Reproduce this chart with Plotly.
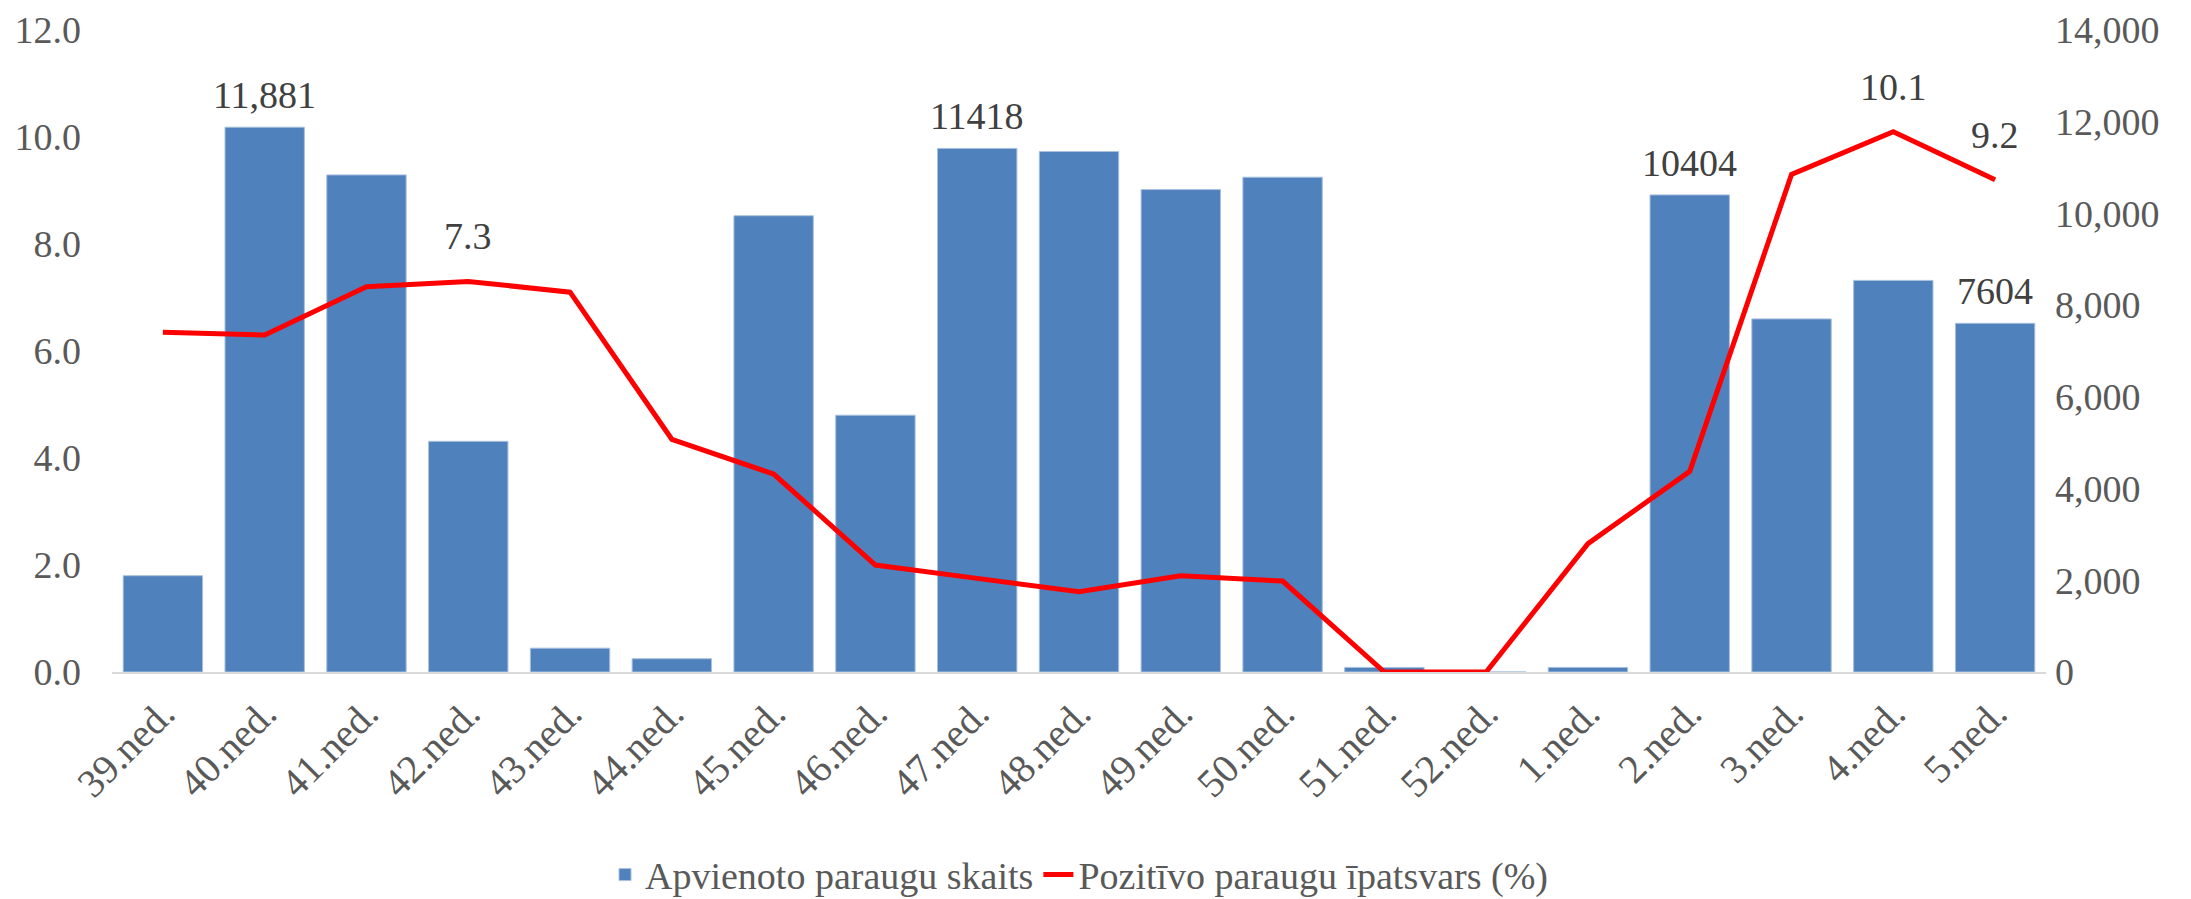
import plotly.graph_objects as go

# weeks
weeks = ["39.ned.", "40.ned.", "41.ned.", "42.ned.", "43.ned.", "44.ned.", "45.ned.",
         "46.ned.", "47.ned.", "48.ned.", "49.ned.", "50.ned.", "51.ned.", "52.ned.",
         "1.ned.", "2.ned.", "3.ned.", "4.ned.", "5.ned."]

# combined sample count (right axis)
samples = [2100, 11881, 10840, 5030, 520, 290, 9950, 5600, 11418, 11350,
           10520, 10790, 100, 0, 100, 10404, 7700, 8540, 7604]
sample_labels = ["", "11,881", "", "", "", "", "", "", "11418", "",
                 "", "", "", "", "", "10404", "", "", "7604"]

# share of positive samples, % (left axis)
positive_pct = [6.35, 6.3, 7.2, 7.3, 7.1, 4.35, 3.7, 2.0, 1.75, 1.5,
                1.8, 1.7, 0.0, 0.0, 2.4, 3.75, 9.3, 10.1, 9.2]
pct_labels = ["", "", "", "7.3", "", "", "", "", "", "",
              "", "", "", "", "", "", "", "10.1", "9.2"]

FONT = "Liberation Serif"
GRAY = "#595959"
DARK = "#404040"

fig = go.Figure()

fig.add_trace(go.Bar(
    x=weeks, y=samples, name="Apvienoto paraugu skaits",
    marker=dict(color="#4F81BD", line=dict(color="#A9C0DE", width=1)),
    yaxis="y",
))

fig.add_trace(go.Scatter(
    x=weeks, y=positive_pct, name="Pozitīvo paraugu īpatsvars (%)",
    mode="lines", line=dict(color="#FF0000", width=5),
    cliponaxis=False,
    yaxis="y2",
))

# value labels over selected bars and line points
for wk, val, lab in zip(weeks, samples, sample_labels):
    if lab:
        fig.add_annotation(x=wk, y=val, xref="x", yref="y", text=lab,
                           showarrow=False, yshift=32,
                           font=dict(family=FONT, size=38, color=DARK))
for wk, val, lab in zip(weeks, positive_pct, pct_labels):
    if lab:
        fig.add_annotation(x=wk, y=val, xref="x", yref="y2", text=lab,
                           showarrow=False, yshift=45,
                           font=dict(family=FONT, size=38, color=DARK))

fig.update_layout(
    width=2191, height=899,
    margin=dict(l=104, r=153, t=22, b=235, autoexpand=False),
    paper_bgcolor="white", plot_bgcolor="white",
    font=dict(family=FONT, size=38, color=GRAY),
    bargap=0.22,
    showlegend=True,
    legend=dict(orientation="h", x=0.5, xanchor="center", y=-0.316, yanchor="middle",
                font=dict(family=FONT, size=38, color=GRAY)),
    xaxis=dict(tickangle=-45, showgrid=False, showline=True, linecolor="#D9D9D9",
               linewidth=2, ticks="", ticklabelstandoff=0, automargin=False,
               tickfont=dict(family=FONT, size=40, color=GRAY)),
    yaxis=dict(side="right", range=[0, 14000], dtick=2000, tickformat=",",
               showgrid=False, zeroline=False, ticks="", automargin=False,
               ticklabelstandoff=8,
               tickfont=dict(family=FONT, size=38, color=GRAY)),
    yaxis2=dict(side="left", overlaying="y", range=[0, 12], dtick=2, tickformat=".1f",
                showgrid=False, zeroline=False, ticks="", automargin=False,
                ticklabelstandoff=30,
                tickfont=dict(family=FONT, size=38, color=GRAY)),
)

fig.write_html("out.html")
